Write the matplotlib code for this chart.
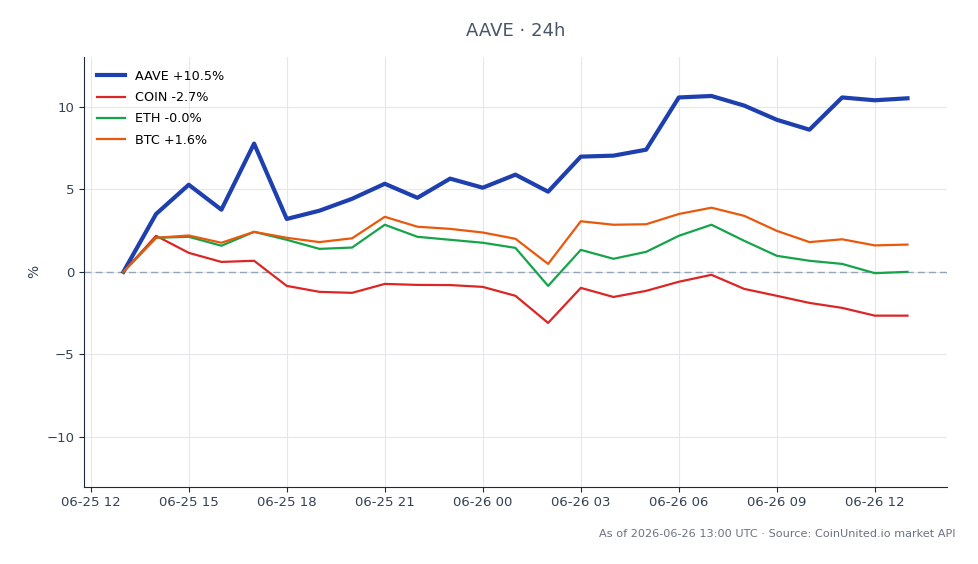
import matplotlib
matplotlib.use("Agg")
import matplotlib.pyplot as plt
import matplotlib.dates as mdates
import pandas as pd

times = pd.date_range("2026-06-25 13:00", "2026-06-26 13:00", freq="h")

aave = [0, 3.5, 5.27, 3.76, 7.76, 3.2, 3.7, 4.42, 5.33, 4.48, 5.64, 5.09, 5.88,
        4.85, 6.97, 7.03, 7.39, 10.55, 10.64, 10.06, 9.2, 8.6, 10.55, 10.38, 10.5]
coin = [0, 2.18, 1.15, 0.6, 0.67, -0.85, -1.21, -1.27, -0.73, -0.79, -0.8, -0.91, -1.45,
        -3.09, -0.97, -1.52, -1.15, -0.6, -0.18, -1.03, -1.45, -1.88, -2.18, -2.65, -2.65]
eth = [0, 2.06, 2.12, 1.58, 2.42, 1.94, 1.39, 1.47, 2.85, 2.12, 1.94, 1.76, 1.45,
       -0.85, 1.33, 0.79, 1.21, 2.18, 2.85, 1.88, 0.97, 0.67, 0.48, -0.08, 0.0]
btc = [0, 2.06, 2.2, 1.76, 2.42, 2.06, 1.8, 2.03, 3.33, 2.73, 2.6, 2.38, 2.0,
       0.48, 3.06, 2.85, 2.88, 3.5, 3.88, 3.39, 2.48, 1.8, 1.97, 1.6, 1.65]

series = [
    ("AAVE +10.5%", aave, "#1e40af", 3.0),
    ("COIN -2.7%", coin, "#dc2626", 1.6),
    ("ETH -0.0%", eth, "#16a34a", 1.6),
    ("BTC +1.6%", btc, "#ea580c", 1.6),
]

fig = plt.figure(figsize=(9.79, 5.64), dpi=100)
ax = fig.add_axes([0.086, 0.137, 0.881, 0.762])

ax.axhline(0, color="#94a3b8", lw=1, ls=(0, (5, 3)), zorder=1.5)
for label, vals, color, lw in series:
    ax.plot(times, vals, color=color, lw=lw, label=label, zorder=2)

ax.set_ylim(-13, 13)
ax.set_yticks([-10, -5, 0, 5, 10])
ax.xaxis.set_major_locator(mdates.HourLocator(byhour=[0, 3, 6, 9, 12, 15, 18, 21]))
ax.xaxis.set_major_formatter(mdates.DateFormatter("%m-%d %H"))
ax.grid(True, color="#e5e7eb", lw=0.8)
ax.set_axisbelow(True)
for s in ["top", "right"]:
    ax.spines[s].set_visible(False)
for s in ["left", "bottom"]:
    ax.spines[s].set_color("#1e293b")
ax.tick_params(colors="#334155", labelsize=9.5)
ax.tick_params(color="#1e293b")
ax.set_ylabel("%", color="#334155", fontsize=10)

ax.legend(loc="upper left", frameon=False, fontsize=9.2, handlelength=2.2,
          labelspacing=0.65, borderaxespad=0.6)
fig.text(0.527, 0.945, "AAVE · 24h", ha="center", va="center", fontsize=13, color="#475569")
fig.text(0.976, 0.053, "As of 2026-06-26 13:00 UTC · Source: CoinUnited.io market API",
         ha="right", va="center", fontsize=8.1, color="#6b7280")

fig.savefig("out.png", dpi=100)
